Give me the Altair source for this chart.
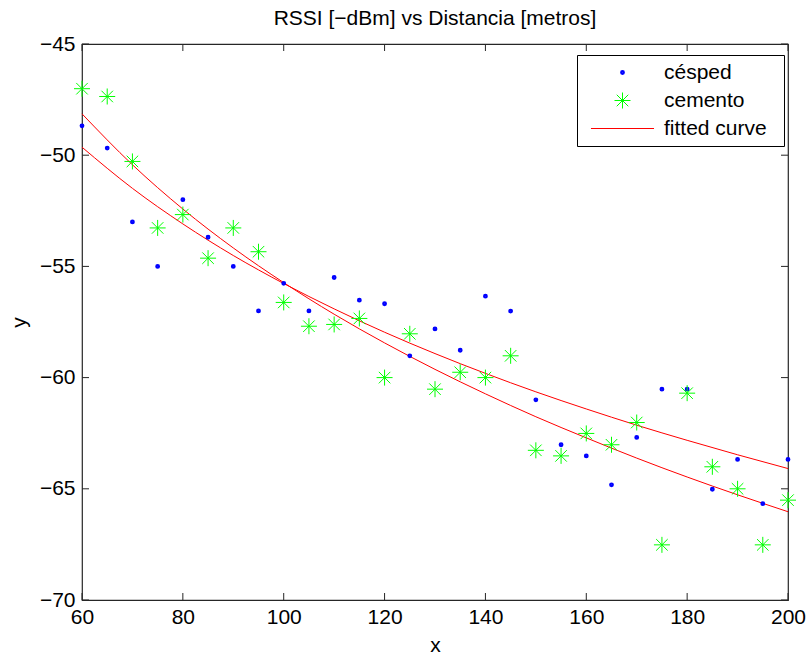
import altair as alt
import pandas as pd

# ---- data ----
x_vals = [60, 65, 70, 75, 80, 85, 90, 95, 100, 105, 110, 115, 120, 125, 130,
          135, 140, 145, 150, 155, 160, 165, 170, 175, 180, 185, 190, 195, 200]
cesped = [-48.68, -49.68, -53.0, -55.0, -52.0, -53.69, -55.0, -57.0, -55.76, -57.0,
          -55.5, -56.52, -56.68, -59.02, -57.81, -58.77, -56.34, -57.01, -61.0, -63.02,
          -63.52, -64.82, -62.69, -60.52, -60.52, -65.02, -63.68, -65.67, -63.68]
cemento = [-47.01, -47.36, -50.28, -53.27, -52.67, -54.63, -53.27, -54.34, -56.62, -57.69,
           -57.61, -57.34, -60.0, -58.03, -60.52, -59.76, -60.0, -59.02, -63.27, -63.52,
           -62.51, -63.02, -62.02, -67.52, -60.70, -64.01, -65.0, -67.52, -65.51]

fit_x = [60, 70, 80, 90, 100, 110, 120, 130, 140, 150, 160, 170, 180, 190, 200]
fit_1 = [-48.14, -50.43, -52.42, -54.17, -55.73, -57.15, -58.44, -59.63, -60.73,
         -61.76, -62.71, -63.62, -64.47, -65.27, -66.03]
fit_2 = [-49.64, -51.49, -53.09, -54.51, -55.77, -56.91, -57.96, -58.92, -59.81,
         -60.64, -61.41, -62.14, -62.82, -63.47, -64.09]

x_ticks = [60, 80, 100, 120, 140, 160, 180, 200]
y_ticks = [-70, -65, -60, -55, -50, -45]

series_names = ["césped", "cemento", "fitted curve"]
series_colors = ["#0000ff", "#00ff00", "#ff0000"]
ASTERISK = "M-1,0L1,0M0,-1L0,1M-0.72,-0.72L0.72,0.72M-0.72,0.72L0.72,-0.72"
LEGEND_LINE = "M-3.94,0L3.94,0"

W, H = 706, 556
FONT = "Liberation Sans"
FS = 21
TICK = 7

pts = pd.DataFrame({
    "x": x_vals + x_vals,
    "y": cesped + cemento,
    "series": ["césped"] * len(x_vals) + ["cemento"] * len(x_vals),
})
fits = pd.DataFrame({
    "x": fit_x + fit_x,
    "y": fit_1 + fit_2,
    "curve": ["a"] * len(fit_x) + ["b"] * len(fit_x),
    "series": ["fitted curve"] * (2 * len(fit_x)),
})
xt = pd.DataFrame({"v": x_ticks})
yt = pd.DataFrame({"v": y_ticks})

xscale = alt.Scale(domain=[60, 200], nice=False, zero=False)
yscale = alt.Scale(domain=[-70, -45], nice=False, zero=False)

xaxis = alt.Axis(values=x_ticks, title="x", grid=False, domain=False, tickSize=0,
                 labelPadding=6, titlePadding=7, labelFlush=False)
yaxis = alt.Axis(values=y_ticks, title="y", grid=False, domain=False, tickSize=0,
                 labelPadding=7, titlePadding=10, labelFlush=False)

LT = " "
color = alt.Color("series:N", title=LT,
                  scale=alt.Scale(domain=series_names, range=series_colors))
shape = alt.Shape("series:N", title=LT,
                  scale=alt.Scale(domain=series_names, range=["circle", ASTERISK, LEGEND_LINE]))
size = alt.Size("series:N", title=LT,
                scale=alt.Scale(type="ordinal", domain=series_names, range=[5, 256, 256]))
swidth = alt.StrokeWidth("series:N", title=LT,
                         scale=alt.Scale(type="ordinal", domain=series_names,
                                         range=[2.6, 1.0, 1.0]))

lines = alt.Chart(fits).mark_line(interpolate="monotone", strokeWidth=1).encode(
    x=alt.X("x:Q", scale=xscale, axis=xaxis),
    y=alt.Y("y:Q", scale=yscale, axis=yaxis),
    detail="curve:N",
    color=color,
)

points = alt.Chart(pts).mark_point(filled=False, opacity=1).encode(
    x=alt.X("x:Q", scale=xscale, axis=xaxis),
    y=alt.Y("y:Q", scale=yscale, axis=yaxis),
    color=color,
    shape=shape,
    size=size,
    strokeWidth=swidth,
)

tick_col = "#262626"
xt_bottom = alt.Chart(xt).mark_rule(color=tick_col, strokeWidth=1).encode(
    x=alt.X("v:Q", scale=xscale, axis=xaxis), y=alt.value(H), y2=alt.value(H - TICK))
xt_top = alt.Chart(xt).mark_rule(color=tick_col, strokeWidth=1).encode(
    x=alt.X("v:Q", scale=xscale, axis=xaxis), y=alt.value(0), y2=alt.value(TICK))
yt_left = alt.Chart(yt).mark_rule(color=tick_col, strokeWidth=1).encode(
    y=alt.Y("v:Q", scale=yscale, axis=yaxis), x=alt.value(0), x2=alt.value(TICK))
yt_right = alt.Chart(yt).mark_rule(color=tick_col, strokeWidth=1).encode(
    y=alt.Y("v:Q", scale=yscale, axis=yaxis), x=alt.value(W), x2=alt.value(W - TICK))

chart = alt.layer(lines, points, xt_bottom, xt_top, yt_left, yt_right).properties(
    width=W, height=H,
    title=alt.TitleParams("RSSI [−dBm] vs Distancia [metros]", font=FONT, fontSize=FS,
                          fontWeight="normal", color="black", anchor="middle", offset=4),
    autosize=alt.AutoSizeParams(type="none"),
    padding={"left": 82, "top": 44, "right": 18, "bottom": 55},
    background="white",
).configure_view(
    stroke=tick_col, strokeWidth=1.2
).configure_axis(
    labelFont=FONT, labelFontSize=FS, labelColor="black",
    titleFont=FONT, titleFontSize=FS, titleColor="black", titleFontWeight="normal",
).configure_legend(
    orient="none", legendX=495, legendY=11, padding=7,
    fillColor="white", strokeColor="black",
    labelFont=FONT, labelFontSize=FS, labelColor="black",
    rowPadding=6, labelOffset=31, symbolOffset=28,
    titleOrient="right", titleFontSize=1, titlePadding=10,
)

chart.save("out.html", embed_options={"renderer": "svg", "actions": False})
